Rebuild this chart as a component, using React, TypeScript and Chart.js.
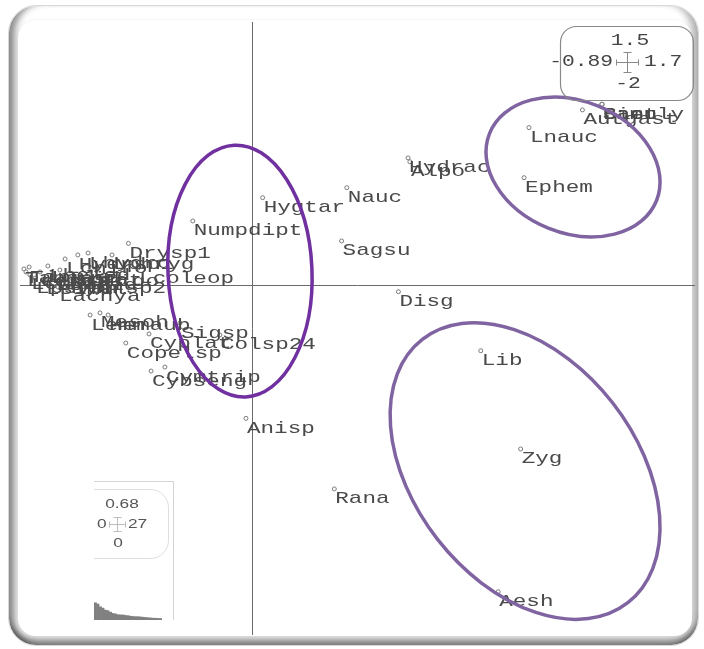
import React, { useEffect, useRef } from "react";
import { Chart, registerables } from "chart.js";

Chart.register(...registerables);

// Taxon scores on the first two ordination axes
const taxa = [
  "Numpdipt", "Hygtar", "Nauc", "Sagsu", "Disg", "Hydrac", "Alpo", "Lnauc", "Ephem",
  "Autgast", "Simuly", "Baet", "Caen", "Lib", "Zyg", "Rana", "Aesh", "Anisp",
  "Copelsp", "Cyplat", "Sigsp", "Colsp24", "Cymtrip", "Cybseng", "Lemn", "Mesoh", "Hemaub",
  "Drysp1", "Lcoleop", "Lachya", "Lchiro", "Hydrsp1", "Lhydro", "Lphryg", "Tipula", "Tabanid",
  "Lcerat", "Lculic", "Lpsych", "Lsimul", "Lempid", "Hydrsp2", "Lelmid", "Lstrat", "Lhelod", "Oligo",
];
const axis1 = [
  -0.227, 0.041, 0.364, 0.344, 0.562, 0.599, 0.606, 1.063, 1.044,
  1.268, 1.342, 1.344, 1.343, 0.878, 1.031, 0.316, 0.945, -0.023,
  -0.484, -0.395, -0.276, -0.123, -0.334, -0.387, -0.621, -0.583, -0.552,
  -0.474, -0.437, -0.744, -0.717, -0.668, -0.629, -0.537, -0.855, -0.875,
  -0.867, -0.852, -0.832, -0.794, -0.756, -0.698, -0.813, -0.737, -0.783, -0.621,
];
const axis2 = [
  0.364, 0.497, 0.554, 0.25, -0.04, 0.724, 0.702, 0.897, 0.611,
  0.998, 1.03, 1.029, 1.031, -0.377, -0.938, -1.166, -1.753, -0.763,
  -0.333, -0.281, -0.219, -0.287, -0.47, -0.493, -0.173, -0.161, -0.173,
  0.236, 0.095, -0.013, 0.147, 0.17, 0.181, 0.17, 0.101, 0.09,
  0.073, 0.056, 0.038, 0.027, 0.05, 0.038, 0.073, 0.084, 0.107, 0.078,
];

// Axis limits shown in the range box
const xRange = [-0.89, 1.7];
const yRange = [-2, 1.5];

// Eigenvalues for the scree inset
const eigenvalues = [
  0.68, 0.63, 0.52, 0.47, 0.39, 0.37, 0.31, 0.26, 0.24, 0.21, 0.2, 0.2, 0.18, 0.17,
  0.15, 0.14, 0.13, 0.13, 0.12, 0.11, 0.1, 0.09, 0.08, 0.07, 0.07, 0.06, 0.06,
];

// Group outlines (centre in axis units, radii in px)
const groupCentreX = [-0.046, 1.232, 1.048];
const groupCentreY = [0.078, 0.672, -1.064];

const MONO = '"Liberation Mono", "DejaVu Sans Mono", monospace';
const SANS = '"Liberation Sans", "DejaVu Sans", sans-serif';
const STRETCH = 1.33;

function wideText(
  ctx: CanvasRenderingContext2D,
  text: string,
  x: number,
  y: number,
  size: number,
  align: CanvasTextAlign,
  color: string,
  family = MONO
) {
  ctx.save();
  ctx.font = `${size}px ${family}`;
  ctx.fillStyle = color;
  ctx.textBaseline = "middle";
  ctx.textAlign = align;
  ctx.translate(x, y);
  ctx.scale(STRETCH, 1);
  ctx.fillText(text, 0, 0);
  ctx.restore();
}

function crossMark(ctx: CanvasRenderingContext2D, x: number, y: number, h: number, w: number, color: string) {
  ctx.save();
  ctx.strokeStyle = color;
  ctx.lineWidth = 1;
  ctx.beginPath();
  ctx.moveTo(x, y - h);
  ctx.lineTo(x, y + h);
  ctx.moveTo(x - 4, y - h);
  ctx.lineTo(x + 4, y - h);
  ctx.moveTo(x - 4, y + h);
  ctx.lineTo(x + 4, y + h);
  ctx.moveTo(x - w, y);
  ctx.lineTo(x + w, y);
  ctx.moveTo(x - w, y - 3);
  ctx.lineTo(x - w, y + 3);
  ctx.moveTo(x + w, y - 3);
  ctx.lineTo(x + w, y + 3);
  ctx.stroke();
  ctx.restore();
}

const axesPlugin = {
  id: "originAxes",
  beforeDatasetsDraw(chart: any) {
    const { ctx, chartArea, scales } = chart;
    const x0 = Math.round(scales.x.getPixelForValue(0)) + 0.5;
    const y0 = Math.round(scales.y.getPixelForValue(0)) + 0.5;
    ctx.save();
    ctx.strokeStyle = "#6a6a6a";
    ctx.lineWidth = 1;
    ctx.beginPath();
    ctx.moveTo(x0, chartArea.top);
    ctx.lineTo(x0, chartArea.bottom);
    ctx.moveTo(chartArea.left, y0);
    ctx.lineTo(chartArea.right, y0);
    ctx.stroke();
    ctx.restore();
  },
};

const labelsPlugin = {
  id: "taxonLabels",
  afterDatasetsDraw(chart: any) {
    const { ctx } = chart;
    const meta = chart.getDatasetMeta(0);
    meta.data.forEach((pt: any, i: number) => {
      wideText(ctx, taxa[i], pt.x + 1, pt.y + 10, 17, "left", "#4a4a4a");
    });
  },
};

const ringsPlugin = {
  id: "groupRings",
  afterDatasetsDraw(chart: any) {
    const { ctx, scales } = chart;
    const shapes = [
      { rx: 72, ry: 126, rot: -0.045, color: "#7030A0" },
      { rx: 90, ry: 66, rot: 0.384, color: "#8064A2" },
      { rx: 167, ry: 111, rot: 0.908, color: "#8064A2" },
    ];
    ctx.save();
    shapes.forEach((s, i) => {
      const cx = scales.x.getPixelForValue(groupCentreX[i]);
      const cy = scales.y.getPixelForValue(groupCentreY[i]);
      ctx.beginPath();
      ctx.ellipse(cx, cy, s.rx, s.ry, s.rot, 0, Math.PI * 2);
      ctx.strokeStyle = s.color;
      ctx.lineWidth = 3.5;
      ctx.stroke();
    });
    ctx.restore();
  },
};

const boxesPlugin = {
  id: "infoBoxes",
  afterDraw(chart: any) {
    const { ctx } = chart;
    ctx.save();
    // range box, top right
    ctx.beginPath();
    ctx.roundRect(560.5, 26.5, 133, 74, 16);
    ctx.strokeStyle = "#8a8a8a";
    ctx.lineWidth = 1.2;
    ctx.stroke();
    wideText(ctx, String(yRange[1]), 630, 41, 16, "center", "#454545");
    wideText(ctx, String(xRange[0]), 613, 62, 16, "right", "#454545");
    wideText(ctx, String(xRange[1]), 644, 62, 16, "left", "#454545");
    wideText(ctx, String(yRange[0]), 628, 84, 16, "center", "#454545");
    crossMark(ctx, 627.5, 62.5, 10, 11, "#8a8a8a");

    // scree inset, bottom left
    ctx.strokeStyle = "#d4d4d4";
    ctx.lineWidth = 1;
    ctx.beginPath();
    ctx.moveTo(94, 481.5);
    ctx.lineTo(173.5, 481.5);
    ctx.lineTo(173.5, 620);
    ctx.stroke();
    ctx.beginPath();
    ctx.moveTo(94, 489.5);
    ctx.lineTo(150, 489.5);
    ctx.arcTo(168.5, 489.5, 168.5, 507, 18);
    ctx.lineTo(168.5, 540);
    ctx.arcTo(168.5, 558.5, 150, 558.5, 18);
    ctx.lineTo(94, 558.5);
    ctx.strokeStyle = "#dedede";
    ctx.stroke();
    wideText(ctx, eigenvalues[0].toFixed(2), 122, 504, 13, "center", "#555", SANS);
    wideText(ctx, "0", 97, 524, 13, "left", "#555", SANS);
    wideText(ctx, String(eigenvalues.length), 128, 524, 13, "left", "#555", SANS);
    wideText(ctx, "0", 118, 543, 13, "center", "#555", SANS);
    crossMark(ctx, 117.5, 524.5, 7, 8, "#bdbdbd");
    ctx.restore();
  },
};

export default function App() {
  const mainRef = useRef<HTMLCanvasElement | null>(null);
  const screeRef = useRef<HTMLCanvasElement | null>(null);

  useEffect(() => {
    if (!mainRef.current || !screeRef.current) return;
    const main = new Chart(mainRef.current, {
      type: "scatter",
      data: {
        datasets: [
          {
            data: taxa.map((_, i) => ({ x: axis1[i], y: axis2[i] })),
            pointRadius: 2,
            pointHoverRadius: 2,
            pointBorderWidth: 1,
            pointBorderColor: "#7a7a7a",
            pointBackgroundColor: "#ffffff",
          },
        ],
      },
      options: {
        responsive: false,
        animation: false,
        devicePixelRatio: 1,
        events: [],
        layout: { padding: { left: 20, top: 22, right: 9, bottom: 14 } },
        scales: {
          x: { type: "linear", min: xRange[0], max: xRange[1], display: false },
          y: { type: "linear", min: yRange[0], max: yRange[1], display: false },
        },
        plugins: { legend: { display: false }, tooltip: { enabled: false } },
      },
      plugins: [axesPlugin, labelsPlugin, ringsPlugin, boxesPlugin],
    });

    const scree = new Chart(screeRef.current, {
      type: "bar",
      data: {
        labels: eigenvalues.map((_, i) => String(i + 1)),
        datasets: [
          {
            data: eigenvalues,
            backgroundColor: "#808080",
            borderWidth: 0,
            barPercentage: 1,
            categoryPercentage: 1,
          },
        ],
      },
      options: {
        responsive: false,
        animation: false,
        devicePixelRatio: 1,
        events: [],
        layout: { padding: 0 },
        scales: {
          x: { display: false },
          y: { display: false, min: 0, max: 0.71 },
        },
        plugins: { legend: { display: false }, tooltip: { enabled: false } },
      },
    });

    return () => {
      main.destroy();
      scree.destroy();
    };
  }, []);

  return (
    <div style={{ position: "absolute", left: 0, top: 0, width: 704, height: 649, background: "#fff", overflow: "hidden" }}>
      <div
        style={{
          position: "absolute",
          left: 8,
          top: 5,
          width: 691,
          height: 641,
          boxSizing: "border-box",
          borderRadius: 28,
          border: "1px solid #d8d8d8",
          background: "#fff",
          boxShadow:
            "inset 11px 0 7px -5px rgba(0,0,0,0.45), inset 0 -11px 7px -5px rgba(0,0,0,0.5), inset -11px 0 7px -5px rgba(0,0,0,0.3)",
        }}
      />
      <div
        style={{
          position: "absolute",
          left: 18,
          top: 20,
          width: 674,
          height: 616,
          borderRadius: 18,
          background: "#fff",
          boxShadow: "0 0 3px rgba(0,0,0,0.08)",
        }}
      />
      <canvas ref={screeRef} width={68} height={18} style={{ position: "absolute", left: 94, top: 602 }} />
      <canvas ref={mainRef} width={704} height={649} style={{ position: "absolute", left: 0, top: 0 }} />
    </div>
  );
}
